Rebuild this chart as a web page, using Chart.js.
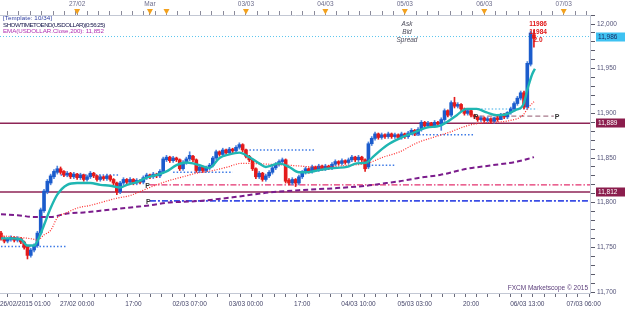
<!DOCTYPE html>
<html><head><meta charset="utf-8">
<script src="https://cdn.jsdelivr.net/npm/chart.js@4.4.0/dist/chart.umd.min.js"></script>
<style>html,body{margin:0;padding:0;background:#fff;overflow:hidden}#wrap{width:625px;height:311px}</style>
</head><body><div id="wrap"><canvas id="c" width="625" height="311"></canvas></div>
<script>
// ---------- DATA ----------
const opens = [11766,11760,11757,11759,11761,11758,11760,11756,11751,11741,11747,11752,11766,11791,11812,11822,11829,11834,11838,11835,
11831,11833,11829,11832,11828,11831,11826,11829,11833,11830,11826,11829,11827,11830,11826,11822,11812,11822,11826,11823,
11826,11822,11825,11823,11828,11831,11829,11832,11830,11835,11848,11851,11847,11850,11848,11838,11845,11849,11852,11848,
11836,11840,11836,11839,11842,11850,11857,11854,11859,11856,11860,11858,11862,11865,11859,11852,11848,11838,11829,11833,
11826,11830,11834,11839,11843,11846,11848,11825,11822,11826,11822,11829,11834,11838,11835,11840,11837,11841,11838,11841,
11839,11843,11846,11844,11847,11845,11848,11851,11848,11851,11848,11840,11866,11872,11877,11873,11876,11874,11877,11874,
11876,11873,11877,11874,11878,11881,11877,11882,11890,11886,11889,11886,11890,11888,11893,11903,11898,11912,11908,11910,
11905,11900,11903,11898,11896,11893,11895,11892,11894,11891,11895,11893,11899,11896,11901,11905,11911,11917,11923,11907,11955,11988];
const closes = [11760,11757,11759,11761,11758,11760,11756,11750,11741,11747,11752,11766,11792,11813,11824,11830,11835,11838,11834,11831,
11833,11829,11832,11828,11831,11826,11829,11833,11830,11826,11829,11827,11830,11826,11822,11812,11822,11826,11823,11826,
11822,11825,11823,11828,11831,11829,11832,11830,11835,11849,11851,11847,11850,11848,11838,11845,11849,11853,11848,11836,
11840,11836,11839,11842,11850,11857,11854,11859,11856,11860,11858,11862,11865,11859,11852,11848,11838,11829,11833,11826,
11830,11834,11839,11843,11846,11848,11824,11822,11826,11822,11829,11834,11838,11835,11840,11837,11841,11838,11841,11839,
11843,11846,11844,11847,11845,11848,11851,11848,11851,11848,11838,11866,11872,11877,11873,11876,11874,11877,11874,11876,
11873,11877,11874,11878,11881,11877,11882,11890,11886,11889,11886,11890,11888,11893,11903,11898,11912,11908,11910,11905,
11900,11903,11898,11896,11893,11895,11892,11894,11891,11895,11893,11899,11896,11901,11905,11911,11917,11923,11907,11956,11990,11984];
const highs = [11768,11762,11761,11763,11762,11762,11761,11757,11752,11749,11754,11768,11794,11815,11826,11832,11837,11841,11840,11836,
11835,11834,11834,11833,11833,11832,11831,11835,11834,11831,11831,11830,11832,11831,11827,11823,11824,11828,11827,11828,
11827,11827,11826,11830,11833,11832,11834,11833,11837,11851,11853,11852,11852,11851,11849,11847,11851,11857,11853,11849,
11842,11841,11841,11844,11852,11859,11858,11861,11860,11862,11861,11864,11867,11866,11860,11853,11849,11839,11835,11834,
11832,11836,11841,11845,11848,11850,11849,11827,11828,11827,11831,11836,11840,11839,11842,11841,11843,11842,11843,11842,
11845,11848,11847,11849,11848,11850,11853,11852,11853,11852,11849,11868,11874,11879,11878,11878,11877,11879,11878,11878,
11877,11879,11878,11880,11883,11882,11884,11892,11891,11891,11890,11892,11891,11895,11905,11904,11914,11918,11912,11911,
11906,11905,11904,11899,11897,11897,11896,11896,11895,11896,11897,11900,11900,11902,11907,11913,11919,11925,11925,11958,11992,11993];
const lows = [11758,11755,11755,11757,11756,11756,11754,11748,11737,11739,11745,11750,11764,11789,11810,11820,11827,11832,11832,11829,
11829,11827,11827,11826,11826,11824,11824,11827,11828,11824,11824,11825,11825,11824,11820,11809,11810,11820,11821,11821,
11820,11820,11821,11821,11826,11827,11827,11828,11828,11833,11846,11845,11845,11846,11836,11836,11843,11847,11846,11834,
11834,11834,11834,11837,11840,11848,11852,11852,11854,11854,11856,11856,11860,11857,11850,11846,11836,11827,11827,11824,
11824,11828,11832,11837,11841,11844,11822,11820,11820,11818,11820,11827,11832,11833,11833,11835,11835,11836,11836,11837,
11837,11841,11842,11842,11843,11843,11846,11846,11846,11846,11835,11838,11864,11870,11871,11871,11872,11872,11872,11872,
11871,11871,11872,11872,11876,11875,11875,11880,11884,11884,11884,11884,11886,11881,11891,11896,11896,11906,11906,11903,
11898,11898,11896,11894,11891,11891,11890,11890,11889,11889,11891,11893,11894,11894,11899,11903,11909,11915,11905,11905,11953,11974];

// indicator lines: [slot, value]
const emaFast = [[0,11760],[3,11760],[6,11759],[8,11752],[10,11752],[11.5,11761],[13,11775],[15,11794],[17,11809],[20,11820],
[23,11822],[27,11822],[30,11820],[33,11819],[36,11817],[38,11820],[41,11823],[44,11828],[47,11831],[50,11835],[53,11842],
[56,11845],[58,11844],[60,11842],[63,11839],[66,11850],[69,11854],[72,11856],[75,11851],[78,11844],[80,11840],[82,11842],
[84,11844],[87,11840],[90,11834],[92.5,11834],[95.5,11836],[98.5,11838],[101.5,11839],[104.5,11840],[107.5,11844],
[110.5,11845],[112.3,11851],[116.5,11864],[120.5,11872],[124.4,11878],[128.6,11884],[132.5,11886],[134.6,11890],
[137.7,11898],[140.7,11905],[143.7,11905],[146.7,11901],[149.7,11898],[152.7,11899],[155.7,11904],[157.7,11909],
[159.2,11929],[160.5,11944],[161.3,11950]];
const emaMid = [[0,11763],[6,11761],[10,11759],[11,11758],[13,11764],[15,11769],[17,11783],[20,11789],[23,11794],[27,11797],
[31,11801],[35,11805],[39,11808],[43,11814],[47,11820],[51,11825],[55,11829],[59,11833],[64,11836],[68.5,11840],[72.5,11844],
[86.5,11842],[95.5,11840],[105.5,11842],[110.5,11844],[115.5,11851],[120.5,11857],[125.7,11867],[130.5,11873],[135.6,11879],
[140.7,11886],[144.7,11889],[148.6,11890],[153.8,11892],[157.7,11898],[159.2,11906],[161.3,11914]];
const ema200 = [[0,11787],[5,11786],[10,11784],[15,11784],[20,11788],[25,11789],[30,11791],[35,11793],[40,11795],[45,11797],
[50,11800],[55,11801],[60,11802],[70,11806],[80,11811],[90,11814],[100,11816],[110.5,11819],[116.5,11822],[120.5,11824],
[126.6,11828],[132.6,11831],[140.8,11838],[148.6,11842],[156,11846],[161,11851]];

// short support/resistance dotted levels: [fromSlot, toSlot, value]
const dotLevels = [[0,20,11751],[18,36,11831],[52,70,11834],[74,95,11859],[112,119,11842],[121,143,11876],[144,162,11905]];
// long levels
const askLevel = 11986;
const maroonLevels = [11889, 11812];
const pivotPink = 11820, pivotBlue = 11802, pivotGray = 11897;
const priceTags = [11986, 11889, 11812];

// axis labels
const bottomTickSlots = [0,23,40,57,74,91,108,125,142,159,176];
const bottomLabels = ['26/02/2015 01:00','27/02 00:00','17:00','02/03 07:00','03/03 00:00','17:00','04/03 10:00','05/03 03:00','20:00','06/03 13:00','07/03 06:00'];
const daySlots = [23,45,50,74,98,122,146,170];
const dayLabels = ['27/02','Mar','','03/03','04/03','05/03','06/03','07/03'];
const headerLines = ['[Template: 10/34]','SHOWTIMETOEND(USDOLLAR)(0:56:25)','EMA(USDOLLAR.Close,200): 11,852'];
const quoteNames = ['Ask','Bid','Spread'];
const quoteValues = ['11986','11984','2.0'];
const footer = 'FXCM Marketscope \u00A9 2015';

// ---------- CHART ----------
const X_MIN = -0.3, X_MAX = 177.94, Y_MIN = 11698.9, Y_MAX = 12010.1;
const UP = '#1b5ccc', DOWN = '#e41b1b';
const idx = opens.map((_, i) => i);
const cCol = idx.map(i => closes[i] >= opens[i] ? UP : DOWN);
const pts = a => a.map(p => ({x: p[0], y: p[1]}));
const hline = (a, b, v) => [{x: a, y: v}, {x: b, y: v}];

const datasets = [];
datasets.push({type:'line', data: hline(X_MIN, X_MAX, askLevel), borderColor:'#5cc6ee', borderWidth:1, borderDash:[1,2], pointRadius:0, order:20});
maroonLevels.forEach(v => datasets.push({type:'line', data: hline(X_MIN, X_MAX, v), borderColor:'#8e2556', borderWidth:1.6, pointRadius:0, order:20}));
datasets.push({type:'line', data: hline(45, X_MAX, pivotPink), borderColor:'#e3306e', borderWidth:1.2, borderDash:[6,2,1.5,2], pointRadius:0, order:20});
datasets.push({type:'line', data: hline(45, X_MAX, pivotBlue), borderColor:'#3a4ee6', borderWidth:1.6, borderDash:[6,2,2,2], pointRadius:0, order:20});
datasets.push({type:'line', data: hline(144.5, 167, pivotGray), borderColor:'#a87a8c', borderWidth:1.2, borderDash:[5,3], pointRadius:0, order:20});
dotLevels.forEach(d => datasets.push({type:'line', data: hline(d[0], d[1], d[2]), borderColor: d[2] > 11900 ? '#7cc8f0' : '#3f7be6', borderWidth:1.5, borderDash:[1.5,2], pointRadius:0, order:19}));
datasets.push({type:'bar', data: idx.map(i => ({x:i, y:[lows[i], highs[i]]})), backgroundColor: idx.map(i => closes[i] >= opens[i] ? '#4f86e0' : DOWN), barThickness:1, grouped:false, order:12});
datasets.push({type:'bar', data: idx.map(i => ({x:i, y:[opens[i], closes[i]]})), backgroundColor: cCol, barThickness:3, grouped:false, order:11});
datasets.push({type:'line', data: pts(ema200), borderColor:'#7b1c8c', borderWidth:2, borderDash:[5,3], pointRadius:0, cubicInterpolationMode:'monotone', order:3});
datasets.push({type:'line', data: pts(emaMid), borderColor:'#ff2a2a', borderWidth:1.2, borderDash:[1,1.5], pointRadius:0, cubicInterpolationMode:'monotone', order:2});
datasets.push({type:'line', data: pts(emaFast), borderColor:'#1fb6b2', borderWidth:2.4, pointRadius:0, cubicInterpolationMode:'monotone', order:1});

const bottomTicks = [];
bottomTickSlots.forEach((s, k) => {
  if (k === bottomTickSlots.length - 1) { bottomTicks.push(s); return; }
  const n = k === 0 ? 6 : 5, st = (bottomTickSlots[k+1] - s) / n;
  for (let j = 0; j < n; j++) bottomTicks.push(s + j * st);
});
const topTicks = [];
for (let s = 74 - 21 * 24 / 7; s < X_MAX; s += 24 / 7) if (s > X_MIN) topTicks.push(s);
daySlots.forEach(s => topTicks.push(s));
const yTicks = [];
for (let v = 11700; v <= 12010; v += 10) yTicks.push(v);

const FONT = '"Liberation Sans", Arial, sans-serif';
const fmt = v => String(v).replace(/(\d)(?=(\d{3})$)/, '$1,');

const overlay = {
  id: 'overlay',
  afterDraw(chart) {
    const ctx = chart.ctx, xs = chart.scales.x, ys = chart.scales.y;
    ctx.save();
    ctx.font = '6.5px ' + FONT; ctx.fillStyle = '#45456a'; ctx.textBaseline = 'middle';
    bottomTickSlots.forEach((s, i) => {
      ctx.textAlign = i === 0 ? 'left' : 'center';
      ctx.fillText(bottomLabels[i], i === 0 ? 0 : xs.getPixelForValue(s), 304);
    });
    ctx.fillStyle = '#6c6c8c'; ctx.textAlign = 'center';
    daySlots.forEach((s, i) => { if (dayLabels[i]) ctx.fillText(dayLabels[i], xs.getPixelForValue(s), 4.5); });
    ctx.fillStyle = '#f2a11e';
    daySlots.forEach(s => { const px = xs.getPixelForValue(s); ctx.beginPath(); ctx.moveTo(px - 3, 9); ctx.lineTo(px + 3, 9); ctx.lineTo(px, 14.5); ctx.closePath(); ctx.fill(); });
    ctx.textAlign = 'left'; ctx.font = '6.5px ' + FONT;
    priceTags.forEach((v, i) => {
      const py = Math.round(ys.getPixelForValue(v));
      ctx.fillStyle = i === 0 ? '#3ec2f2' : '#8b1d4d';
      ctx.fillRect(596, py - 4.5, 29, 9);
      ctx.fillStyle = i === 0 ? '#1a2a60' : '#ffffff';
      ctx.fillText(fmt(v), 598, py + 0.5);
    });
    ctx.font = 'bold 7px ' + FONT; ctx.fillStyle = '#333333'; ctx.textBaseline = 'top';
    [[43.6, pivotPink], [43.8, pivotBlue], [142.8, pivotGray], [167.3, pivotGray]].forEach(p => {
      ctx.fillText('P', xs.getPixelForValue(p[0]), ys.getPixelForValue(p[1]) - 2);
    });
    ctx.textBaseline = 'middle'; ctx.font = '6.2px ' + FONT;
    const hc = ['#2a3aa0', '#15154a', '#b02cb0'];
    const hs = ['0.1px', '-0.5px', '-0.05px'];
    headerLines.forEach((t, i) => {
      if ('letterSpacing' in ctx) ctx.letterSpacing = hs[i];
      ctx.fillStyle = hc[i]; ctx.fillText(t, 3, 18 + i * 6.8);
    });
    if ('letterSpacing' in ctx) ctx.letterSpacing = '0px';
    ctx.textAlign = 'center';
    quoteNames.forEach((t, i) => {
      ctx.font = 'italic 6.5px ' + FONT; ctx.fillStyle = '#4a4a5a';
      ctx.fillText(t, 407, 24 + i * 8);
      ctx.font = 'bold 6.5px ' + FONT; ctx.fillStyle = '#e01818';
      ctx.fillText(quoteValues[i], 538, 24 + i * 8);
    });
    ctx.textAlign = 'right'; ctx.font = '6.5px ' + FONT; ctx.fillStyle = '#5a3c7a';
    ctx.fillText(footer, 588, 288);
    ctx.restore();
  }
};

new Chart(document.getElementById('c'), {
  data: { datasets },
  options: {
    responsive: false, animation: false, events: [],
    layout: { padding: 0 },
    plugins: { legend: { display: false }, tooltip: { enabled: false } },
    scales: {
      x: {
        type: 'linear', position: 'bottom', min: X_MIN, max: X_MAX, offset: false,
        afterBuildTicks: s => { s.ticks = bottomTicks.map(v => ({ value: v })); },
        ticks: { display: false, autoSkip: false },
        grid: { drawOnChartArea: false, drawTicks: true, tickLength: 4, tickColor: '#6a6a7a', tickWidth: 1 },
        border: { display: true, color: '#c3c8d4', width: 1 },
        afterFit: s => { s.height = 18; s.paddingLeft = 0; s.paddingRight = 0; }
      },
      xTop: {
        type: 'linear', axis: 'x', position: 'top', min: X_MIN, max: X_MAX, offset: false,
        afterBuildTicks: s => { s.ticks = topTicks.map(v => ({ value: v })); },
        ticks: { display: false, autoSkip: false },
        grid: { drawOnChartArea: false, drawTicks: true, tickLength: 4, tickColor: '#8a8a9a' },
        border: { display: true, color: '#c3c8d4', width: 1 },
        afterFit: s => { s.height = 15; s.paddingLeft = 0; s.paddingRight = 0; }
      },
      y: {
        type: 'linear', position: 'right', min: Y_MIN, max: Y_MAX,
        afterBuildTicks: s => { s.ticks = yTicks.map(v => ({ value: v })); },
        ticks: { autoSkip: false, padding: 2, color: '#55557a', font: { size: 6.5, family: FONT },
                 callback: v => (v % 50 === 0 ? fmt(v) : '') },
        grid: { drawOnChartArea: false, drawTicks: true, tickLength: 5, tickColor: '#5a5a6a' },
        border: { display: true, color: '#c3c8d4', width: 1 },
        afterFit: s => { s.width = 35; s.paddingTop = 0; s.paddingBottom = 0; }
      }
    }
  },
  plugins: [overlay]
});
</script>
</body></html>
